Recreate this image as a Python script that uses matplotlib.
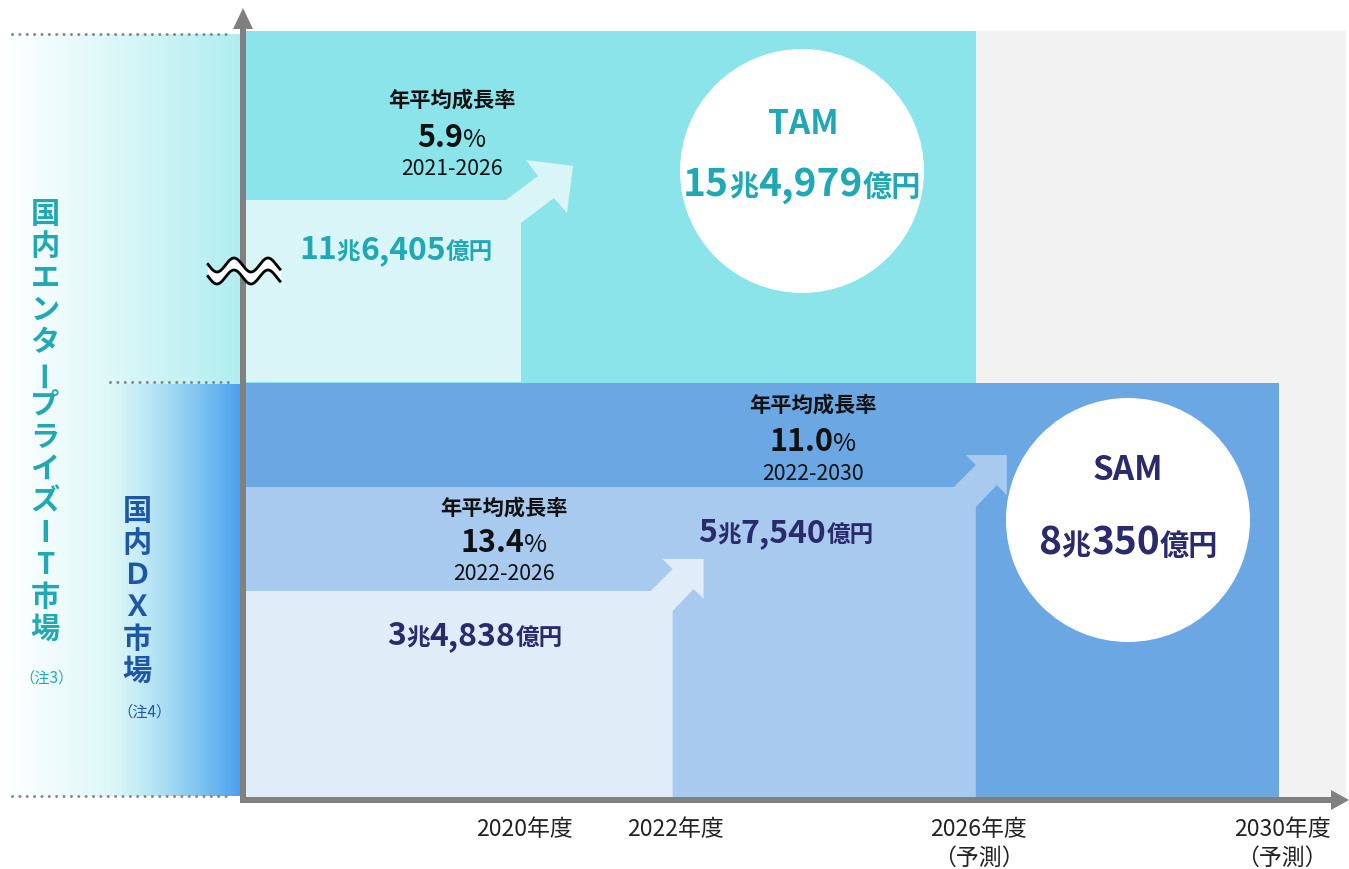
import numpy as np
import matplotlib
matplotlib.use('Agg')
import matplotlib.pyplot as plt
from matplotlib.patches import Rectangle, Polygon, Circle

plt.rcParams['font.family'] = ['Noto Sans CJK JP', 'DejaVu Sans']

# ---- data (values in 億円) ----
years = [2020, 2022, 2026, 2030]
year_labels = ['2020年度', '2022年度', '2026年度\n（予測）', '2030年度\n（予測）']
tam_start = 116405      # 2021
tam_end = 154979        # 2026
dx_values = [34838, 57540, 80350]   # 2022, 2026, 2030
cagr_values = [5.9, 13.4, 11.0]
cagr_periods = ['2021-2026', '2022-2026', '2022-2030']
it_label = '国内エンタープライズIT市場'
dx_label = '国内ＤＸ市場'
notes = ['（注3）', '（注4）']

TEAL = '#20a9b4'
NAVY = '#2b2a6a'
W, H = 1349, 870

fig = plt.figure(figsize=(W / 100, H / 100), dpi=100)
ax = fig.add_axes([0, 0, 1, 1])
renderer = fig.canvas.get_renderer()


def year_x(y):
    return 521 + (y - 2020) * 75.8


def rich(x, y, parts, color):
    # parts: (text, fontsize[, weight]); centred on x, baseline at y
    objs, widths = [], []
    for p in parts:
        s, size = p[0], p[1]
        w = p[2] if len(p) > 2 else 'bold'
        t = ax.text(0, y, s, fontsize=size, fontweight=w, color=color,
                    ha='left', va='baseline', zorder=10)
        objs.append(t)
        widths.append(t.get_window_extent(renderer=renderer).width)
    cur = x - sum(widths) / 2
    for t, w in zip(objs, widths):
        t.set_x(cur)
        cur += w


def money_parts(v, big, small):
    a, b = '{}'.format(v // 10000), '{:,}'.format(v % 10000)
    return [(a, big), ('兆', small), (b, big), ('億円', small)]


def arrow_step(x0, xr, ytop, ybot, shape, color):
    pts = [(x0, ybot), (x0, ytop)] + [(xr + dx, ytop + dy) for dx, dy in shape] + [(xr, ybot)]
    ax.add_patch(Polygon(pts, closed=True, facecolor=color, edgecolor='none', zorder=3))


# background blocks
x_axis = 246
ax.add_patch(Rectangle((year_x(years[2]), 32), 1346 - year_x(years[2]), 768,
                       facecolor='#f2f2f2', edgecolor='none', zorder=1))
ax.add_patch(Rectangle((x_axis, 32), year_x(years[2]) - x_axis, 352,
                       facecolor='#8be4ea', edgecolor='none', zorder=2))
ax.add_patch(Rectangle((x_axis, 384), year_x(years[3]) - x_axis, 416,
                       facecolor='#6ba7e3', edgecolor='none', zorder=2))

cyan_shape = [(-15, 0), (17, -24), (5, -40), (52, -34), (46, 13), (33, -2), (0, 23)]
blue_shape = [(-22, 0), (0, -22), (-10, -32), (31, -32), (31, 8), (21, -2), (0, 20)]
arrow_step(x_axis, year_x(years[0]), 201, 383, cyan_shape, '#d9f5f7')
arrow_step(x_axis, year_x(years[2]), 488, 800, blue_shape, '#a8caee')
arrow_step(x_axis, year_x(years[1]), 592, 800, blue_shape, '#e0edf9')

# circles
ax.add_patch(Circle((802, 172), 122, facecolor='white', edgecolor='none', zorder=5))
ax.add_patch(Circle((1128, 521), 122, facecolor='white', edgecolor='none', zorder=5))

# left gradient panel
gx = np.linspace(0, 1, 240)
cyan = np.array([0.69, 0.93, 0.94])
grad = np.ones((2, 240, 4))
grad[..., :3] = 1 - (1 - cyan) * gx[None, :, None] ** 1.1
ax.imshow(grad, extent=(0, 241, 797, 35), aspect='auto', zorder=1)
bx = np.clip((np.arange(240) - 105) / 135, 0, 1)
blue = np.zeros((2, 240, 4))
blue[..., :3] = [0.29, 0.62, 0.94]
blue[..., 3] = bx[None, :] ** 1.6
ax.imshow(blue, extent=(0, 241, 797, 385), aspect='auto', zorder=1.5)

# dotted guides
for x0, yy in [(12, 35), (110, 383), (12, 797)]:
    ax.plot([x0, 230], [yy, yy], color='#888888', lw=2.2,
            linestyle=(0, (0.01, 2.4)), dash_capstyle='round', zorder=6)

# axes arrows
ax.add_patch(Rectangle((240, 28), 6, 776, facecolor='#808080', edgecolor='none', zorder=8))
ax.add_patch(Polygon([(233, 30), (253, 30), (243, 9)], facecolor='#808080', edgecolor='none', zorder=8))
ax.add_patch(Rectangle((240, 798), 1092, 6, facecolor='#808080', edgecolor='none', zorder=8))
ax.add_patch(Polygon([(1331, 791), (1331, 811), (1349, 801)], facecolor='#808080', edgecolor='none', zorder=8))

# break mark
wx = np.linspace(208, 280, 200)
up = 266 - 7 * np.cos(2 * np.pi * (wx - 234) / 34)
lo = up + 12
ax.fill_between(wx, up, lo, color='white', zorder=9)
ax.plot(wx, up, color='black', lw=2, zorder=9)
ax.plot(wx, lo, color='black', lw=2, zorder=9)

# year labels
for yr, lab in zip(years, year_labels):
    for j, line in enumerate(lab.split('\n')):
        ax.text(year_x(yr) + 3, 830 + j * 28, line, fontsize=16.5, color='#222222',
                ha='center', va='center', zorder=10)

# CAGR blocks
cagr_pos = [(452, 100, 147, 175), (504, 508, 552, 580), (813, 405, 451, 480)]
for (cx, y1, y2, y3), v, per in zip(cagr_pos, cagr_values, cagr_periods):
    ax.text(cx, y1, '年平均成長率', fontsize=15.3, fontweight='bold', color='#111111',
            ha='center', va='center', zorder=10)
    rich(cx, y2, [('{:.1f}'.format(v), 22), ('%', 18, 'normal')], '#111111')
    rich(cx, y3, [(per, 15.3, 'normal')], '#111111')

# market values
rich(396, 259, money_parts(tam_start, 23, 17), TEAL)
rich(475, 645, money_parts(dx_values[0], 23, 17), NAVY)
rich(786, 542, money_parts(dx_values[1], 23, 17), NAVY)
rich(803, 134, [('TAM', 24)], TEAL)
rich(802, 196, money_parts(tam_end, 28, 21), TEAL)
rich(1128, 480, [('SAM', 24)], NAVY)
rich(1128, 555, money_parts(dx_values[2], 28, 21), NAVY)

# vertical side labels
for i, ch in enumerate(it_label):
    ax.text(45, 214 + i * 31.9, ch, fontsize=21, fontweight='bold', color=TEAL,
            ha='center', va='center', rotation=90 if ch == 'ー' else 0, zorder=10)
ax.text(47, 678, notes[0], fontsize=11, color=TEAL, ha='center', va='center', zorder=10)
for i, ch in enumerate(dx_label):
    ax.text(137, 511 + i * 32, ch, fontsize=21, fontweight='bold', color='#1d57a6',
            ha='center', va='center', zorder=10)
ax.text(145, 712, notes[1], fontsize=11, color='#1d57a6', ha='center', va='center', zorder=10)

ax.set_xlim(0, W)
ax.set_ylim(H, 0)
ax.axis('off')
fig.savefig('out.png', dpi=100, facecolor='white')
